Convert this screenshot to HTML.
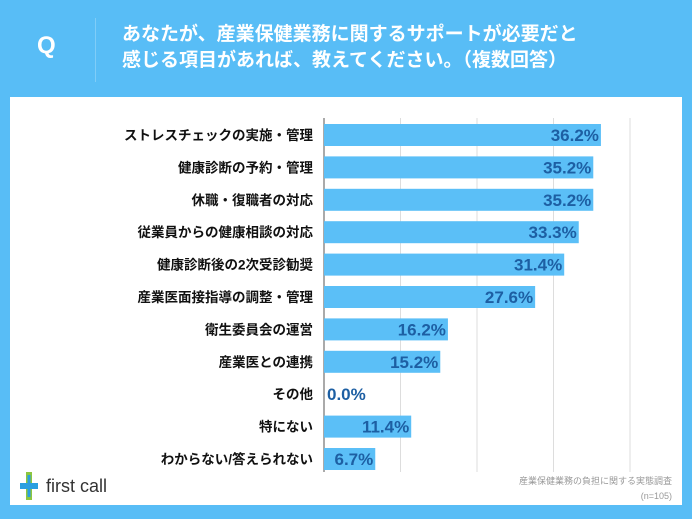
<!DOCTYPE html>
<html><head><meta charset="utf-8"><style>
body{margin:0;width:692px;height:519px;background:#58bdf6;font-family:"Liberation Sans","Noto Sans CJK JP",sans-serif;position:relative;overflow:hidden}
#q{position:absolute;left:37px;top:32px;color:#fff;font-size:24px;font-weight:bold}
#sep{position:absolute;left:95px;top:18px;width:1px;height:64px;background:#7fcdf8}
#title{position:absolute;left:122px;top:22px;color:#fff;font-size:19px;font-weight:bold;line-height:26px}
#panel{position:absolute;left:10px;top:97px;width:672px;height:408px;background:#fff}
#src{position:absolute;right:20px;top:474px;font-size:9px;color:#999;text-align:right;line-height:15px}
#logo{position:absolute;left:18px;top:470px;font-size:18px;color:#333;display:flex;align-items:center;gap:6px}
</style></head><body>
<div id="q">Q</div>
<div id="sep"></div>
<div id="title">あなたが、産業保健業務に関するサポートが必要だと<br>感じる項目があれば、教えてください。（複数回答）</div>
<div id="panel"></div>
<svg id="chart" width="692" height="519" style="position:absolute;left:0;top:0"></svg>
<div id="logo"><svg width="22" height="32" viewBox="0 0 22 32"><path d="M11 2 V30" stroke="#8cc63f" stroke-width="6" fill="none"/><path d="M2 16 H20" stroke="#2a9fe0" stroke-width="6"/><path d="M11 5 V27" stroke="#2a9fe0" stroke-width="3"/></svg><span>first call</span></div>
<div id="src">産業保健業務の負担に関する実態調査<br>(n=105)</div>
<script>
const categories=["ストレスチェックの実施・管理","健康診断の予約・管理","休職・復職者の対応","従業員からの健康相談の対応","健康診断後の2次受診勧奨","産業医面接指導の調整・管理","衛生委員会の運営","産業医との連携","その他","特にない","わからない/答えられない"];
const values=[36.2,35.2,35.2,33.3,31.4,27.6,16.2,15.2,0.0,11.4,6.7];
const ticks=[0,10,20,30,40];
const svg=document.getElementById('chart');const NS='http://www.w3.org/2000/svg';
const x0=324,x1=630,vmax=40,top0=124,step=32.4,bh=22;
const xs=v=>x0+(x1-x0)*v/vmax;
function mk(t,a){const e=document.createElementNS(NS,t);for(const k in a)e.setAttribute(k,a[k]);svg.appendChild(e);return e;}
ticks.forEach((t,i)=>{const l=mk('line',{x1:xs(t),x2:xs(t),y1:118,y2:472,stroke:i==0?'#555':'#ddd','stroke-width':1});

});
categories.forEach((c,i)=>{const y=top0+i*step;
const r=mk('rect',{x:x0,y:y,width:xs(values[i])-x0,height:bh,fill:'#5bbff7'});


const lb=mk('text',{x:313,y:y+bh/2+5,'text-anchor':'end','font-size':'13.5','font-weight':'bold',fill:'#111'});lb.textContent=c;


const w=xs(values[i])-x0;const inside=w>45;
const vl=mk('text',{x:inside?xs(values[i])-2:x0+3,y:y+bh/2+6,'text-anchor':inside?'end':'start','font-size':'17','font-weight':'bold',fill:'#1d5fa3'});vl.textContent=values[i].toFixed(1)+'%';

});
</script>
</body></html>
